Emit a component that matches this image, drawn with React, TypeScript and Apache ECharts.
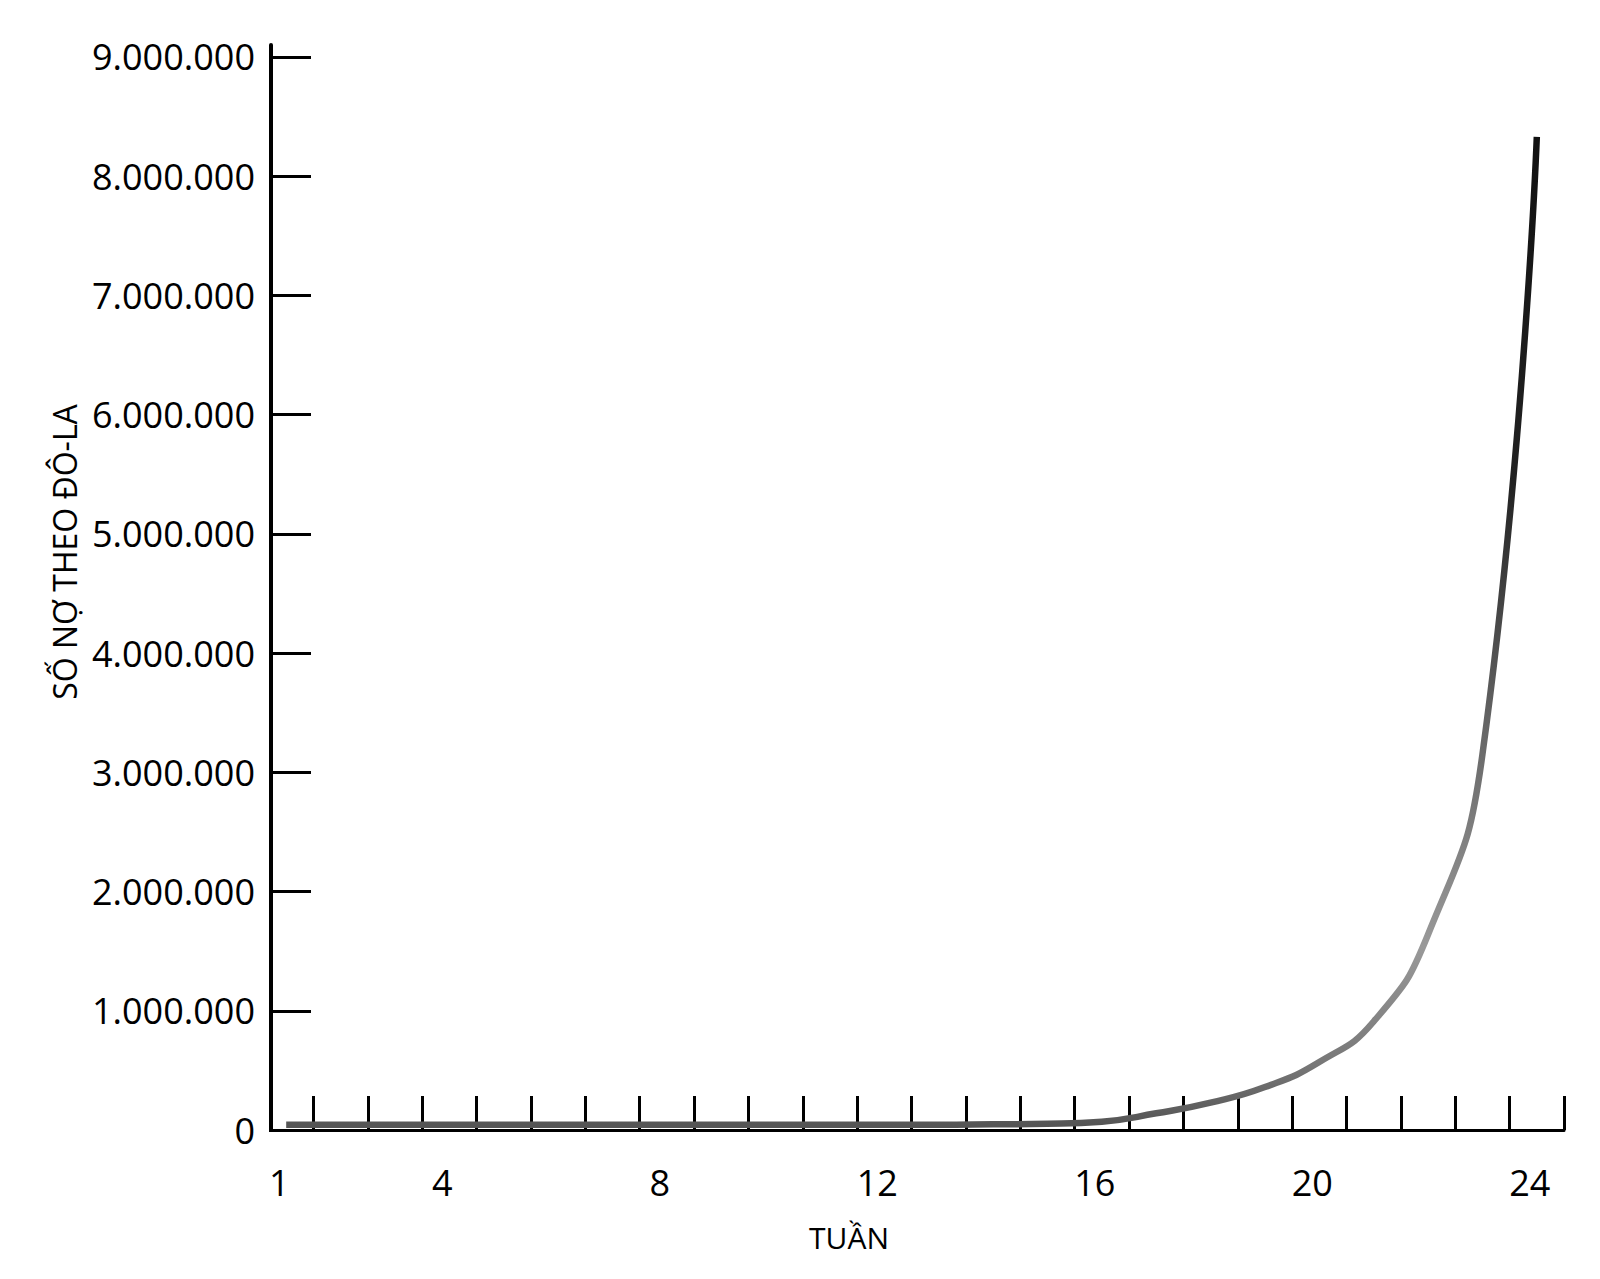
import React, { useEffect, useRef } from 'react';
import * as echarts from 'echarts';

const weeks = ['1', '2', '3', '4', '5', '6', '7', '8', '9', '10', '11', '12', '13', '14', '15', '16', '17', '18', '19', '20', '21', '22', '23', '24'];
const debt = [
  45000, 45000, 45000, 45000, 45000, 45000, 45000, 45000, 45000, 45000, 45000, 45000, 45000,
  48000, 52000, 70000, 140000, 230000, 360000, 570000, 910000, 1640000, 3150000, 8330000,
];
const yTicks = [0, 1000000, 2000000, 3000000, 4000000, 5000000, 6000000, 7000000, 8000000, 9000000];
const shownWeekLabels = ['1', '4', '8', '12', '16', '20', '24'];
const xTitle = 'TUẦN';
const yTitle = 'SỐ NỢ THEO ĐÔ-LA';

const FONT = '"Open Sans", "Noto Sans", sans-serif';

function fmt(v: number): string {
  return String(Math.round(v)).replace(/\B(?=(\d{3})+(?!\d))/g, '.');
}

export default function App() {
  const ref = useRef<HTMLDivElement>(null);
  useEffect(() => {
    if (!ref.current) return;
    const chart = echarts.init(ref.current, undefined, { renderer: 'svg' });
    chart.setOption({
      animation: false,
      backgroundColor: '#ffffff',
      grid: { left: 259, right: 36, top: 45, bottom: 149, containLabel: false },
      xAxis: {
        type: 'category',
        data: weeks,
        boundaryGap: true,
        axisLine: { show: true, lineStyle: { color: '#000', width: 3 } },
        axisTick: {
          show: true,
          inside: true,
          length: 34,
          interval: (index: number) => index > 0,
          lineStyle: { color: '#000', width: 3 },
        },
        axisLabel: {
          interval: (index: number, value: string) => shownWeekLabels.includes(value),
          color: '#000',
          fontFamily: FONT,
          fontSize: 36,
          margin: 34,
          padding: [0, 14, 0, 0],
        },
        splitLine: { show: false },
      },
      yAxis: {
        type: 'value',
        min: 0,
        max: 9100000,
        offset: -12,
        axisLine: { show: true, lineStyle: { color: '#000', width: 4 } },
        axisTick: {
          show: true,
          inside: true,
          length: 40,
          customValues: yTicks,
          lineStyle: { color: '#000', width: 3 },
        },
        axisLabel: {
          customValues: yTicks,
          formatter: (v: number) => fmt(v),
          color: '#000',
          fontFamily: FONT,
          fontSize: 36,
          margin: 16,
        },
        splitLine: { show: false },
      },
      series: [
        {
          type: 'line',
          data: debt,
          showSymbol: false,
          smooth: 0.5,
          lineStyle: {
            width: 6.5,
            color: new echarts.graphic.LinearGradient(0, 0, 0, 1, [
              { offset: 0, color: '#111' },
              { offset: 0.35, color: '#222' },
              { offset: 0.6, color: '#666' },
              { offset: 0.82, color: '#999' },
              { offset: 0.94, color: '#777' },
              { offset: 1, color: '#555' },
            ]),
          },
          z: 1,
        },
      ],
      graphic: [
        {
          type: 'rect',
          z: 100,
          shape: { x: 257, y: 1125, width: 12, height: 10 },
          style: { fill: '#fff' },
        },
        {
          type: 'text',
          z: 100,
          x: 849,
          y: 1237,
          style: {
            text: xTitle,
            fontFamily: FONT,
            fontSize: 30,
            fill: '#000',
            textAlign: 'center',
            textVerticalAlign: 'middle',
          },
        },
        {
          type: 'text',
          z: 100,
          x: 64,
          y: 552,
          rotation: Math.PI / 2,
          style: {
            text: yTitle,
            fontFamily: FONT,
            fontSize: 32,
            fill: '#000',
            textAlign: 'center',
            textVerticalAlign: 'middle',
          },
        },
      ],
    });
    return () => chart.dispose();
  }, []);
  return (
    <div
      ref={ref}
      style={{ position: 'fixed', left: 0, top: 0, width: 1600, height: 1279, background: '#fff' }}
    />
  );
}
